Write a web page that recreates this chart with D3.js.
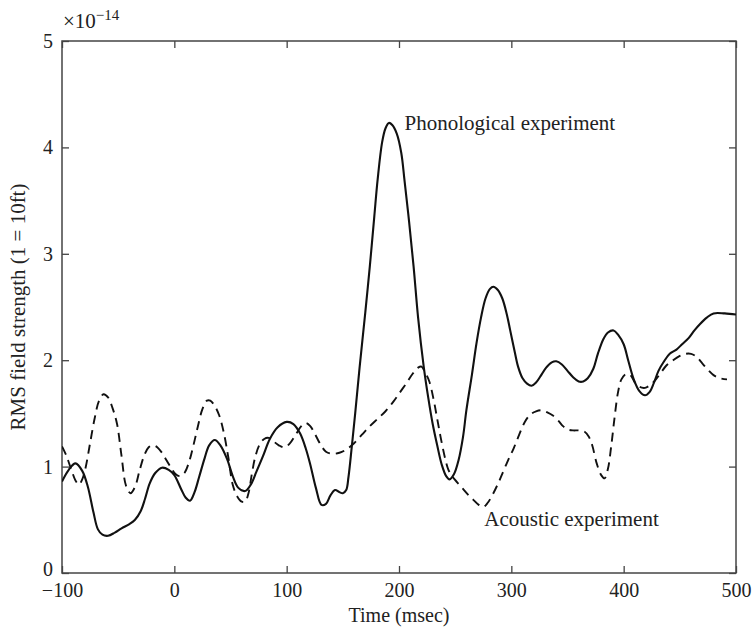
<!DOCTYPE html>
<html>
<head>
<meta charset="utf-8">
<script src="https://cdn.jsdelivr.net/npm/d3@7"></script>
<style>
  html, body { margin: 0; padding: 0; background: #fff; }
  svg { display: block; }
  text { font-family: "Liberation Serif", "Times New Roman", serif; fill: #222; }
</style>
</head>
<body>
<svg id="chart" width="753" height="629"></svg>
<script>
// ---- data ----
const xTicks = [-100, 0, 100, 200, 300, 400, 500];
const yTicks = [0, 1, 2, 3, 4, 5];

const phonoTime = [-100,-94,-88,-82,-77,-72,-68,-64,-59,-53,-47,-40,-35,-30,-26,-22,-17,-11,-5,0,6,10,14,18,22,27,31,36,41,47,52,57,63,68,73,79,85,92,100,106,112,117,121,126,131,135,139,143,147,150,153,155,158,161,165,170,174,178,181,185,188,191,194,198,202,205,209,213,217,222,226,230,234,238,242,245,249,253,257,260,265,269,273,277,281,284,288,292,296,299,303,306,310,314,318,322,326,331,336,340,345,350,355,360,364,368,373,377,382,386,391,395,400,404,409,414,419,423,427,431,436,441,447,452,458,463,468,474,480,490,500];
const phonoValue = [0.86,0.97,1.03,0.96,0.81,0.57,0.41,0.36,0.35,0.38,0.42,0.46,0.50,0.58,0.70,0.84,0.94,0.99,0.97,0.92,0.79,0.71,0.68,0.76,0.90,1.08,1.20,1.25,1.20,1.07,0.91,0.80,0.77,0.83,0.95,1.10,1.26,1.37,1.42,1.40,1.31,1.17,1.02,0.80,0.64,0.65,0.73,0.78,0.76,0.75,0.78,0.90,1.19,1.50,1.94,2.45,2.88,3.35,3.70,4.05,4.18,4.23,4.21,4.13,3.95,3.68,3.30,2.88,2.40,1.94,1.65,1.40,1.20,1.02,0.91,0.88,0.93,1.06,1.28,1.53,1.87,2.16,2.40,2.58,2.67,2.69,2.66,2.58,2.43,2.28,2.08,1.94,1.83,1.78,1.76,1.79,1.85,1.93,1.98,1.99,1.96,1.90,1.84,1.80,1.80,1.83,1.92,2.06,2.20,2.26,2.28,2.24,2.15,2.00,1.82,1.71,1.67,1.70,1.79,1.90,1.99,2.06,2.10,2.15,2.21,2.28,2.34,2.40,2.44,2.44,2.43];

const acousTime = [-100,-96,-92,-88,-85,-82,-79,-75,-71,-67,-63,-59,-55,-51,-47,-43,-39,-35,-31,-27,-23,-19,-15,-11,-7,-3,1,5,9,13,17,21,25,29,32,36,40,44,48,52,56,60,63,66,69,72,76,80,84,88,93,98,103,108,113,117,121,125,130,135,141,147,153,160,167,174,181,188,195,201,207,212,217,220,223,227,231,234,237,241,244,248,252,257,262,266,271,275,279,284,289,293,298,302,307,312,317,322,327,332,337,342,346,350,355,360,365,369,372,376,380,383,386,389,392,395,398,402,406,410,414,419,424,428,433,438,444,450,455,460,465,470,475,480,486,492];
const acousValue = [1.19,1.10,0.98,0.87,0.83,0.88,0.99,1.22,1.45,1.62,1.68,1.65,1.55,1.40,1.10,0.82,0.75,0.81,0.96,1.10,1.18,1.20,1.18,1.13,1.06,0.99,0.93,0.91,0.94,1.04,1.20,1.38,1.54,1.62,1.62,1.57,1.48,1.32,1.09,0.83,0.72,0.67,0.67,0.75,0.93,1.09,1.21,1.26,1.27,1.24,1.20,1.18,1.22,1.30,1.38,1.41,1.38,1.31,1.21,1.14,1.12,1.13,1.16,1.22,1.30,1.38,1.45,1.52,1.61,1.70,1.79,1.87,1.93,1.94,1.89,1.80,1.62,1.45,1.28,1.08,0.97,0.90,0.85,0.79,0.73,0.69,0.64,0.62,0.66,0.75,0.86,0.96,1.08,1.17,1.30,1.42,1.49,1.52,1.53,1.51,1.48,1.43,1.38,1.35,1.34,1.34,1.33,1.28,1.20,1.03,0.92,0.89,0.98,1.20,1.47,1.70,1.82,1.87,1.86,1.79,1.75,1.74,1.77,1.81,1.88,1.95,2.00,2.04,2.06,2.06,2.03,1.97,1.91,1.86,1.83,1.82];

const labels = {
  y: "RMS field strength (1 = 10ft)",
  x: "Time (msec)",
  phono: "Phonological experiment",
  acous: "Acoustic experiment"
};

// ---- layout ----
const margin = { left: 62, right: 17, top: 41, bottom: 56 };
const W = 753, H = 629;
const iw = W - margin.left - margin.right;
const ih = H - margin.top - margin.bottom;

const svg = d3.select("#chart");
const g = svg.append("g").attr("transform", `translate(${margin.left},${margin.top})`);

const x = d3.scaleLinear().domain([-100, 500]).range([0, iw]);
const y = d3.scaleLinear().domain([0, 5]).range([ih, 0]);

const axisColor = "#444";
const tick = 7;
const fontSize = 20;

function styleAxis(sel, showLabels) {
  sel.select(".domain").remove();
  sel.selectAll(".tick line").attr("stroke", axisColor).attr("stroke-width", 1.3);
  if (!showLabels) sel.selectAll(".tick text").remove();
  else sel.selectAll(".tick text").attr("font-size", fontSize).attr("fill", "#222")
        .attr("font-family", '"Liberation Serif", "Times New Roman", serif');
}

g.append("g").attr("transform", `translate(0,${ih})`)
  .call(d3.axisBottom(x).tickValues(xTicks).tickSizeInner(-tick).tickSizeOuter(0).tickPadding(10)
        .tickFormat(d => d < 0 ? "\u2212" + Math.abs(d) : String(d)))
  .call(s => styleAxis(s, true));
g.append("g")
  .call(d3.axisTop(x).tickValues(xTicks).tickSizeInner(-tick).tickSizeOuter(0))
  .call(s => styleAxis(s, false));
g.append("g")
  .call(d3.axisLeft(y).tickValues(yTicks).tickSizeInner(-tick).tickSizeOuter(0).tickPadding(9)
        .tickFormat(d => String(d)))
  .call(s => styleAxis(s, true))
  .call(s => s.selectAll(".tick text").filter(d => d === 0).attr("y", -4));
g.append("g").attr("transform", `translate(${iw},0)`)
  .call(d3.axisRight(y).tickValues(yTicks).tickSizeInner(-tick).tickSizeOuter(0))
  .call(s => styleAxis(s, false));

// frame
g.append("rect").attr("x", 0).attr("y", 0).attr("width", iw).attr("height", ih)
  .attr("fill", "none").attr("stroke", axisColor).attr("stroke-width", 1.5);

// lines
const line = d3.line().x(d => x(d[0])).y(d => y(d[1])).curve(d3.curveCatmullRom.alpha(0.5));
const phono = phonoTime.map((t, i) => [t, phonoValue[i]]);
const acous = acousTime.map((t, i) => [t, acousValue[i]]);

const clip = svg.append("defs").append("clipPath").attr("id", "clip");
clip.append("rect").attr("width", iw).attr("height", ih);

const lines = g.append("g").attr("clip-path", "url(#clip)");
lines.append("path").datum(acous).attr("d", line)
  .attr("fill", "none").attr("stroke", "#111").attr("stroke-width", 1.9)
  .attr("stroke-dasharray", "9,6");
lines.append("path").datum(phono).attr("d", line)
  .attr("fill", "none").attr("stroke", "#111").attr("stroke-width", 2.1);

// annotations
g.append("text").attr("x", x(205)).attr("y", y(4.23) + 7)
  .attr("font-size", 21).text(labels.phono);
g.append("text").attr("x", x(276)).attr("y", y(0.44))
  .attr("font-size", 21).text(labels.acous);

// axis labels
svg.append("text").attr("x", margin.left + iw / 2).attr("y", 622)
  .attr("text-anchor", "middle").attr("font-size", 20).text(labels.x);
svg.append("text").attr("transform", `translate(25,${margin.top + ih / 2}) rotate(-90)`)
  .attr("text-anchor", "middle").attr("font-size", 21).text(labels.y);

// exponent
const ex = svg.append("text").attr("x", 63).attr("y", 28).attr("font-size", 21);
ex.append("tspan").text("\u00d710");
ex.append("tspan").attr("font-size", 15).attr("dy", -8).text("\u221214");
</script>
</body>
</html>
